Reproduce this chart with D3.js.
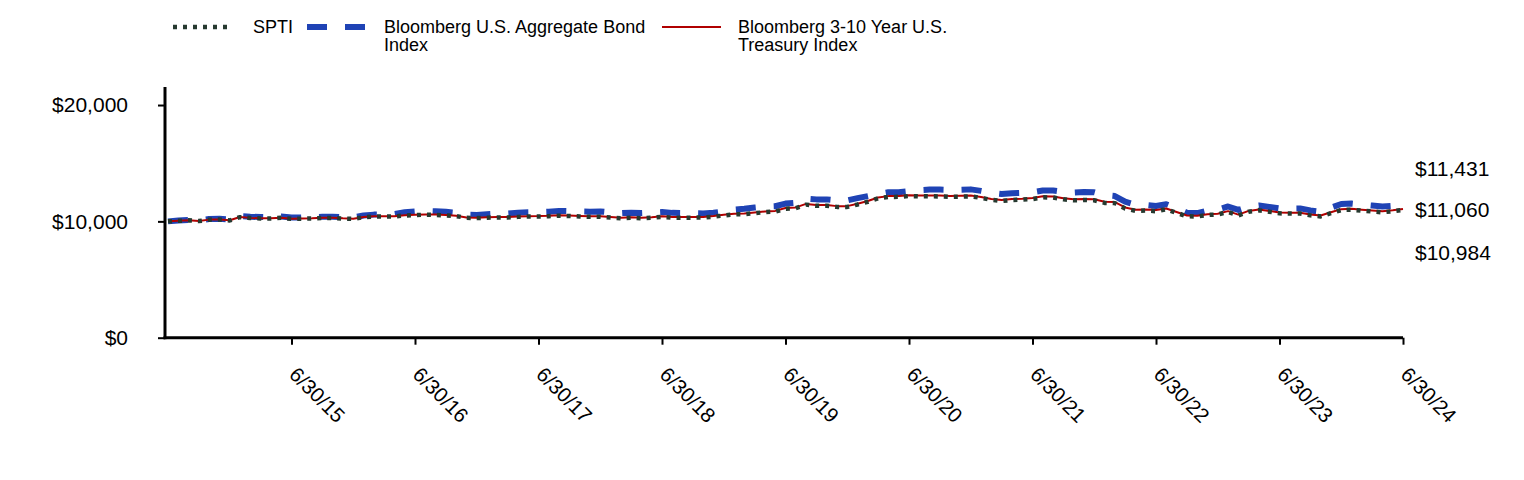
<!DOCTYPE html>
<html>
<head>
<meta charset="utf-8">
<script src="https://cdn.jsdelivr.net/npm/d3@7"></script>
<style>
  html, body { margin: 0; padding: 0; background: #ffffff; }
  svg { display: block; }
  text { font-family: "Liberation Sans", Arial, sans-serif; fill: #000; }
</style>
</head>
<body>
<svg id="chart" width="1524" height="480"></svg>
<script>
// Month index 0 = 6/30/14 ... 120 = 6/30/24 (monthly)
const tickMonths = [12, 24, 36, 48, 60, 72, 84, 96, 108, 120];
const tickLabels = ["6/30/15", "6/30/16", "6/30/17", "6/30/18", "6/30/19", "6/30/20", "6/30/21", "6/30/22", "6/30/23", "6/30/24"];
const yTicks = [0, 10000, 20000];

const seriesNames = ["SPTI", "Bloomberg U.S. Aggregate Bond Index", "Bloomberg 3-10 Year U.S. Treasury Index"];
const legendLines = [["SPTI"], ["Bloomberg U.S. Aggregate Bond", "Index"], ["Bloomberg 3-10 Year U.S.", "Treasury Index"]];
const endLabels = ["$11,431", "$11,060", "$10,984"];

const spti = [10000,10048,10087,10026,10145,10164,10083,10362,10291,10250,10249,10303,10217,
  10226,10245,10299,10298,10242,10211,10360,10409,10408,10417,10506,10535,
  10575,10554,10513,10452,10301,10285,10319,10338,10337,10386,10415,10419,
  10443,10492,10461,10420,10389,10388,10327,10271,10305,10269,10313,10382,
  10321,10320,10319,10328,10402,10506,10605,10624,10703,10792,10841,11090,
  11139,11438,11337,11336,11245,11244,11448,11682,11981,12100,12109,12178,
  12157,12156,12145,12104,12123,12152,12021,11850,11759,11838,11867,11916,
  12065,12054,11893,11812,11841,11810,11589,11568,11107,10906,10935,10874,
  11038,10737,10436,10416,10555,10594,10813,10512,10831,10950,10829,10688,
  10672,10671,10515,10424,10704,10973,11002,10921,10851,10780,10870,10984];

const agg = [10000,10070,10120,10070,10200,10230,10150,10450,10400,10370,10360,10415,10330,
  10330,10340,10395,10405,10360,10340,10510,10580,10600,10640,10780,10850,
  10900,10870,10820,10740,10570,10545,10610,10660,10680,10740,10780,10795,
  10830,10900,10880,10850,10830,10850,10770,10705,10750,10715,10750,10800,
  10730,10720,10700,10680,10745,10860,11010,11080,11190,11270,11300,11530,
  11600,11950,11890,11890,11800,11800,11995,12170,12350,12500,12510,12600,
  12680,12730,12730,12700,12720,12750,12620,12450,12350,12420,12450,12500,
  12650,12660,12540,12480,12530,12500,12260,12180,11690,11430,11410,11320,
  11470,11130,10740,10710,10920,11010,11280,10980,11260,11370,11240,11110,
  11105,11115,10940,10830,11180,11490,11530,11440,11360,11280,11340,11431];

const tsy = [10000,10050,10090,10030,10150,10170,10090,10370,10300,10260,10260,10315,10230,
  10240,10260,10315,10315,10260,10230,10380,10430,10430,10440,10530,10560,
  10600,10580,10540,10480,10330,10315,10350,10370,10370,10420,10450,10455,
  10480,10530,10500,10460,10430,10430,10370,10315,10350,10315,10360,10430,
  10370,10370,10370,10380,10455,10560,10660,10680,10760,10850,10900,11150,
  11200,11500,11400,11400,11310,11310,11515,11750,12050,12170,12180,12250,
  12230,12230,12220,12180,12200,12230,12100,11930,11840,11920,11950,12000,
  12150,12140,11980,11900,11930,11900,11680,11660,11200,11000,11030,10970,
  11100,10800,10500,10480,10620,10660,10880,10580,10900,11020,10900,10760,
  10745,10745,10590,10500,10780,11050,11080,11000,10930,10860,10950,11060];

const svg = d3.select("#chart");
const W = 1524, H = 480;
svg.append("rect").attr("width", W).attr("height", H).attr("fill", "#fff");

const x = d3.scaleLinear().domain([0, 120]).range([168, 1403]);
const y = d3.scaleLinear().domain([0, 21550]).range([337.7, 87]);
const axisX = 165;

// Series styles
const styles = [
  { data: agg, color: "#1f43b5", width: 6, dash: "20 18" },
  { data: tsy, color: "#b00000", width: 2, dash: null },
  { data: spti, color: "#263a30", width: 4.5, dash: "4 6" }
];

const line = d3.line().x((d, i) => x(i)).y(d => y(d));

styles.forEach(s => {
  svg.append("path")
    .datum(s.data)
    .attr("fill", "none")
    .attr("stroke", s.color)
    .attr("stroke-width", s.width)
    .attr("stroke-dasharray", s.dash)
    .attr("stroke-linejoin", "round")
    .attr("d", line);
});

// Y axis
const yAxis = d3.axisLeft(y).tickValues(yTicks).tickSize(7).tickSizeOuter(0).tickPadding(30)
  .tickFormat(d => "$" + d3.format(",")(d));
const gy = svg.append("g").attr("transform", `translate(${axisX},0)`).call(yAxis);
gy.select(".domain").remove();
gy.selectAll(".tick line").attr("stroke", "#000").attr("stroke-width", 2);
gy.selectAll(".tick text").attr("font-size", 21).attr("font-family", "Liberation Sans, Arial, sans-serif").attr("fill", "#000");

// X axis
const xAxis = d3.axisBottom(x).tickValues(tickMonths).tickSize(7).tickSizeOuter(0)
  .tickFormat((d, i) => tickLabels[i]);
const gx = svg.append("g").attr("transform", `translate(0,${y(0)})`).call(xAxis);
gx.select(".domain").remove();
gx.selectAll(".tick line").attr("stroke", "#000").attr("stroke-width", 2);
gx.selectAll(".tick text")
  .attr("font-size", 20.5).attr("font-family", "Liberation Sans, Arial, sans-serif").attr("fill", "#000")
  .attr("text-anchor", "start")
  .attr("dy", null).attr("y", null)
  .attr("transform", "translate(-4,38) rotate(45)");

// Axis lines
svg.append("line").attr("x1", axisX).attr("x2", axisX).attr("y1", y(21550)).attr("y2", y(0) + 1.5)
  .attr("stroke", "#000").attr("stroke-width", 3);
svg.append("line").attr("x1", axisX - 1.5).attr("x2", x(120)).attr("y1", y(0)).attr("y2", y(0))
  .attr("stroke", "#000").attr("stroke-width", 3);

// End labels
const endY = [169, 210, 253];
endLabels.forEach((t, i) => {
  svg.append("text").attr("x", 1415).attr("y", endY[i]).attr("dy", "0.35em")
    .attr("font-size", 21).text(t);
});

// Legend
const legendItems = [
  { x0: 173, x1: 230, tx: 253, s: styles[2] },
  { x0: 307, x1: 368, tx: 384, s: styles[0] },
  { x0: 662, x1: 721, tx: 738, s: styles[1] }
];
legendItems.forEach((it, i) => {
  svg.append("line").attr("x1", it.x0).attr("x2", it.x1).attr("y1", 27).attr("y2", 27)
    .attr("stroke", it.s.color).attr("stroke-width", it.s.width)
    .attr("stroke-dasharray", it.s.dash);
  const t = svg.append("text").attr("x", it.tx).attr("y", 33).attr("font-size", 18);
  legendLines[i].forEach((ln, j) => {
    t.append("tspan").attr("x", it.tx).attr("dy", j === 0 ? 0 : 18).text(ln);
  });
});
</script>
</body>
</html>
